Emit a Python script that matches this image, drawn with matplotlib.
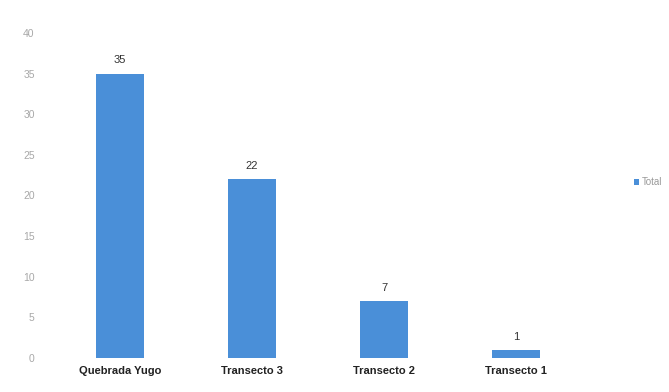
import matplotlib
matplotlib.use("Agg")
import matplotlib.pyplot as plt

# conteo por sitio de muestreo
sitios = ["Quebrada Yugo", "Transecto 3", "Transecto 2", "Transecto 1"]
total = [35, 22, 7, 1]
y_ticks = [0, 5, 10, 15, 20, 25, 30, 35, 40]

plt.rcParams['font.family'] = ['Liberation Sans', 'DejaVu Sans']

fig = plt.figure(figsize=(6.69, 3.92), dpi=100)
ax = fig.add_axes([0.081, 0.087, 0.789, 0.829])

x = range(len(sitios))
bars = ax.bar(x, total, width=0.36, color="#4a8fd8", label="Total")

# etiquetas de valor sobre cada barra
for b, v in zip(bars, total):
    ax.text(b.get_x() + b.get_width() / 2, v + 1.0, str(v),
            ha="center", va="bottom", fontsize=8, color="#333333")

ax.set_xlim(-0.5, len(sitios) - 0.5)
ax.set_ylim(0, 40)
ax.set_yticks(y_ticks)
ax.set_yticklabels([str(t) for t in y_ticks], fontsize=7.5, color="#a8a8a8")
ax.set_xticks(list(x))
ax.set_xticklabels(sitios, fontsize=8, fontweight="bold", color="#222222")
ax.tick_params(axis="both", length=0)
ax.tick_params(axis="y", pad=14)
ax.tick_params(axis="x", pad=6)

for s in ax.spines.values():
    s.set_visible(False)

fig.legend(handles=[bars], labels=["Total"], loc="center left",
           bbox_to_anchor=(0.935, 0.535), frameon=False, fontsize=7,
           handlelength=0.5, handleheight=0.5, handletextpad=0.3,
           labelcolor="#999999")

fig.savefig("out.png", dpi=100)
